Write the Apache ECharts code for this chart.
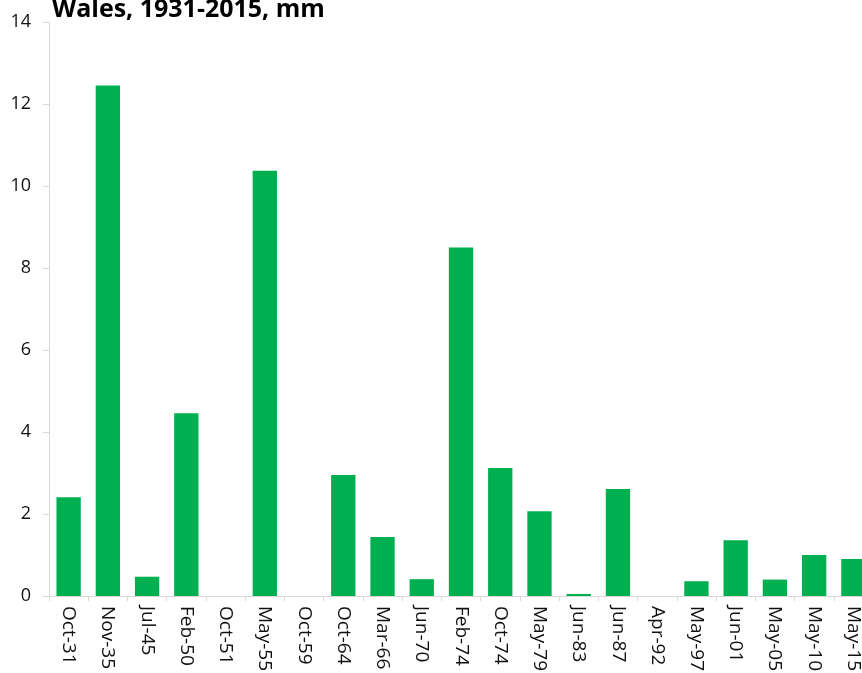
<!DOCTYPE html>
<html><head><meta charset="utf-8">
<script src="https://cdn.jsdelivr.net/npm/echarts@6/dist/echarts.min.js"></script>
<style>html,body{margin:0;padding:0;background:#fff}#c{width:862px;height:673px}</style>
</head><body><div id="c"></div>
<script>
const categories = ["Oct-31","Nov-35","Jul-45","Feb-50","Oct-51","May-55","Oct-59","Oct-64","Mar-66","Jun-70","Feb-74","Oct-74","May-79","Jun-83","Jun-87","Apr-92","May-97","Jun-01","May-05","May-10","May-15"];
const values = [2.41,12.45,0.47,4.46,0,10.37,0,2.95,1.44,0.41,8.5,3.12,2.07,0.05,2.61,0,0.36,1.36,0.4,1.0,0.9];
const titleText = "Wales, 1931-2015, mm";
const font = "'Open Sans', 'Noto Sans', sans-serif";
const chart = echarts.init(document.getElementById('c'));
chart.setOption({
  animation:false,
  title:{text:titleText,left:47,top:-8,textStyle:{fontFamily:font,fontWeight:'bold',fontSize:25,color:'#000'}},
  grid:{left:49,width:824,top:22,bottom:77,containLabel:false,outerBoundsMode:'none'},
  xAxis:{type:'category',data:categories,
    axisLine:{lineStyle:{color:'#d9d9d9',width:1}},
    axisTick:{show:true,length:5,lineStyle:{color:'#d9d9d9'}},
    axisLabel:{rotate:-90,interval:0,fontFamily:font,fontSize:19,color:'#111',margin:10}},
  yAxis:{type:'value',min:0,max:14,interval:2,
    axisLine:{show:true,lineStyle:{color:'#d9d9d9'}},
    axisTick:{show:true,length:6,lineStyle:{color:'#d9d9d9'}},
    splitLine:{show:false},
    axisLabel:{fontFamily:font,fontSize:18,color:'#111',margin:18}},
  series:[{type:'bar',data:values,barWidth:'62%',itemStyle:{color:'#00b050'}}]
});
</script></body></html>
